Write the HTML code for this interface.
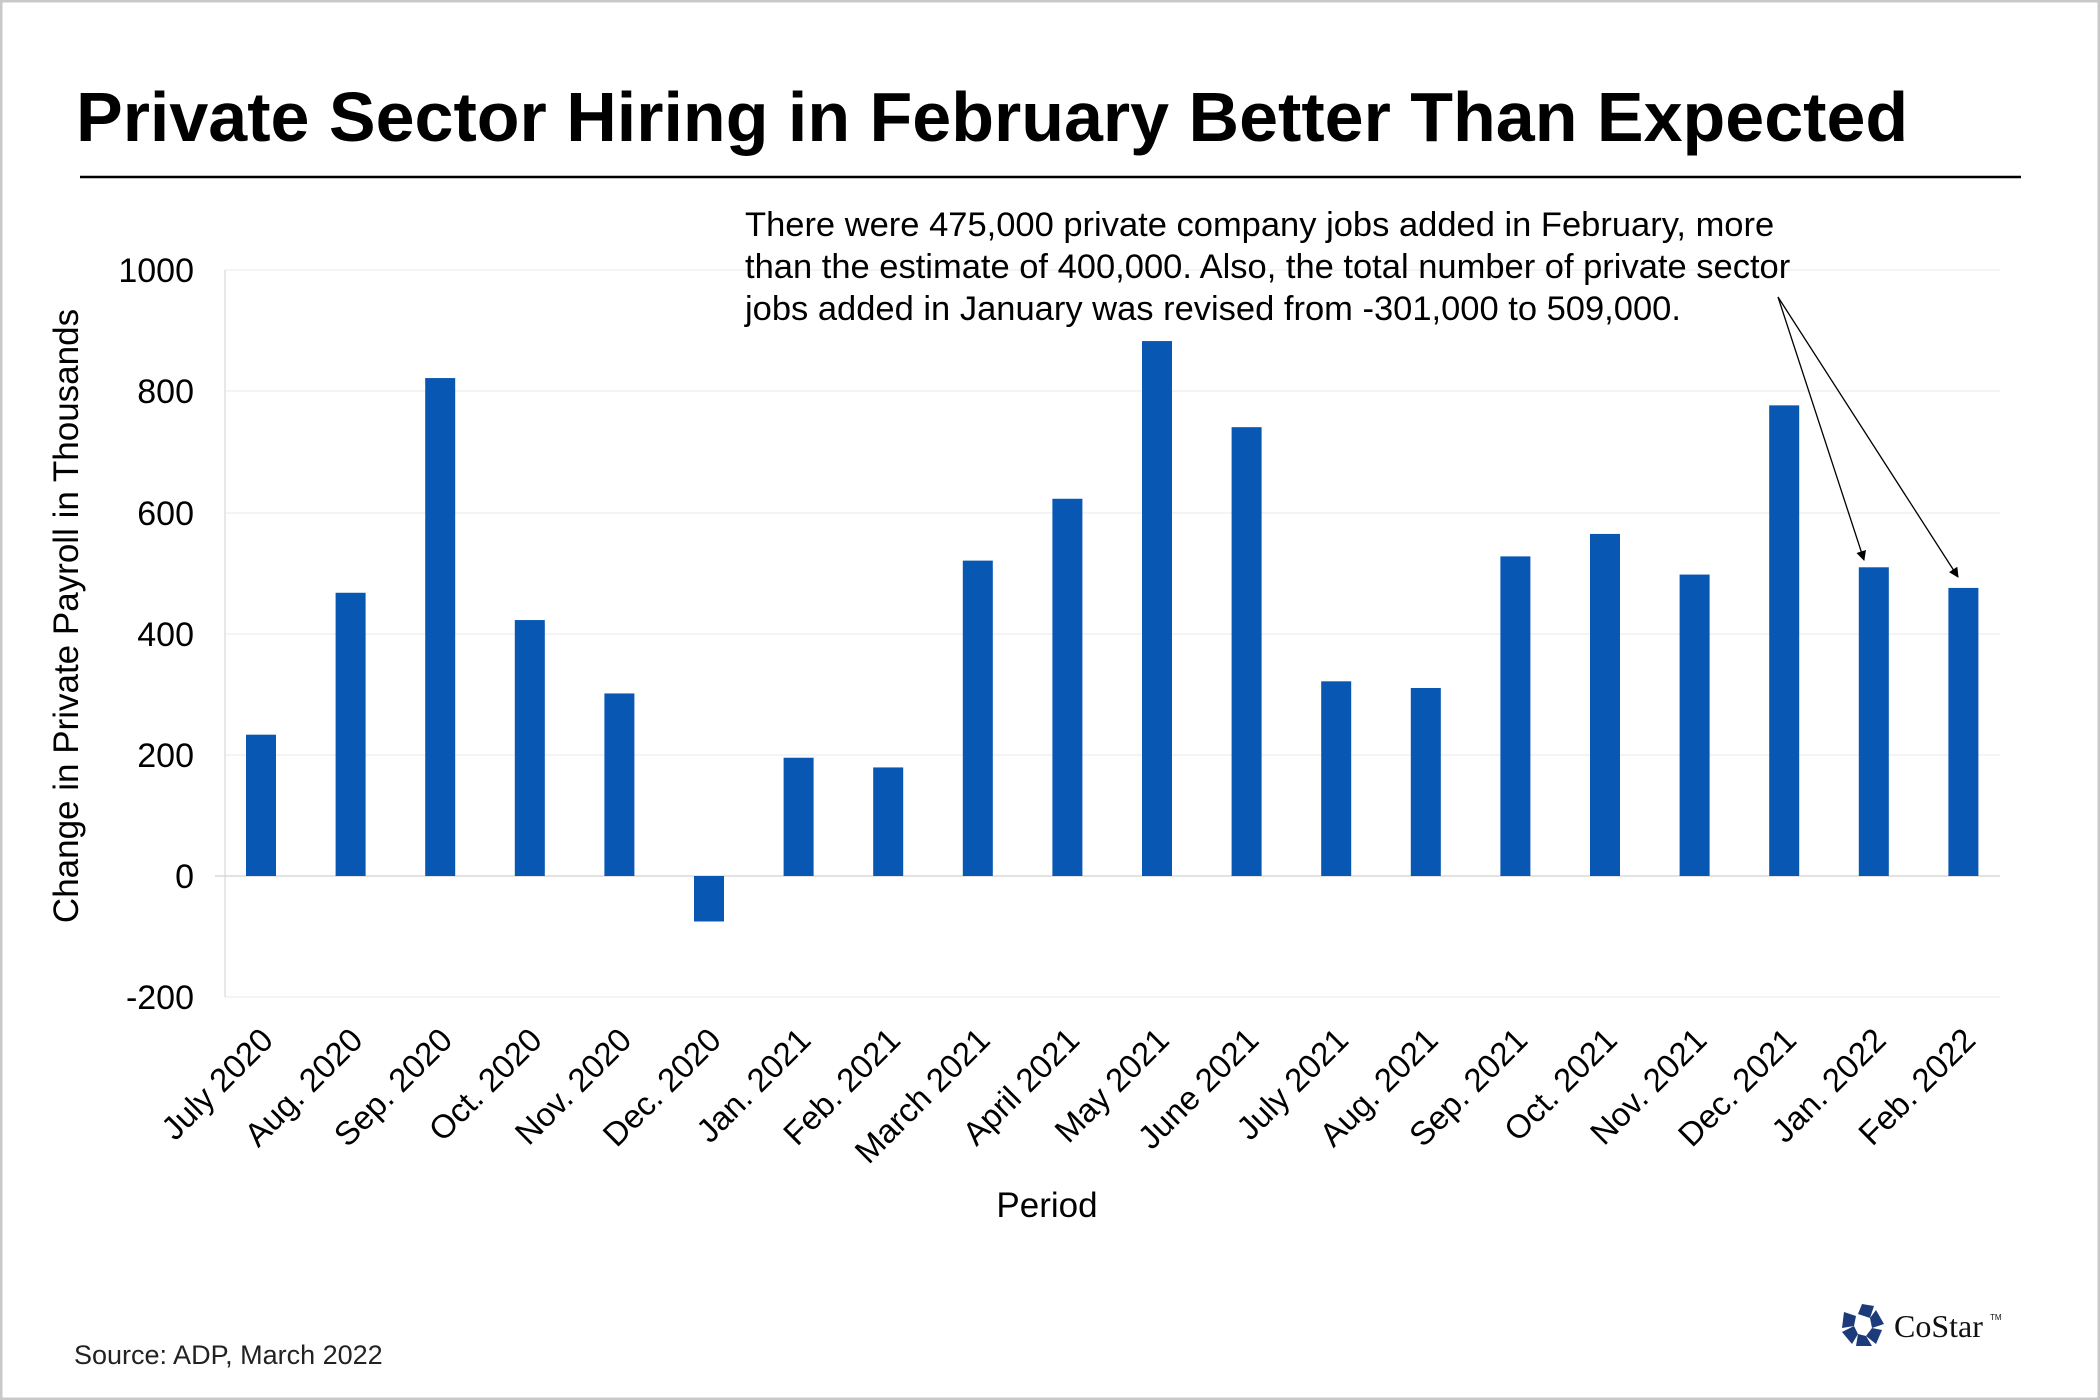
<!DOCTYPE html>
<html><head><style>
body{margin:0;background:#fff;}
svg{display:block;font-family:"Liberation Sans",Arial,sans-serif;}
</style></head><body>
<svg width="2100" height="1400" viewBox="0 0 2100 1400" xmlns="http://www.w3.org/2000/svg">
<rect x="1" y="1" width="2098" height="1398" fill="#fff" stroke="#c8c8c8" stroke-width="3"/>
<text x="76" y="141" font-size="70" font-weight="bold" fill="#000">Private Sector Hiring in February Better Than Expected</text>
<line x1="80" y1="177" x2="2021" y2="177" stroke="#000" stroke-width="2.5"/>
<g stroke="#f0f0f0" stroke-width="1.5">
<line x1="225" y1="270" x2="2000" y2="270"/>
<line x1="225" y1="391" x2="2000" y2="391"/>
<line x1="225" y1="513" x2="2000" y2="513"/>
<line x1="225" y1="634" x2="2000" y2="634"/>
<line x1="225" y1="755" x2="2000" y2="755"/>
<line x1="225" y1="997" x2="2000" y2="997"/>
</g>
<line x1="225" y1="270" x2="225" y2="997" stroke="#e0e0e0" stroke-width="1.5"/>
<line x1="215" y1="876" x2="2000" y2="876" stroke="#d8d8d8" stroke-width="1.5"/>
<g font-size="34" text-anchor="end" fill="#000">
<text x="194" y="282">1000</text><text x="194" y="403">800</text><text x="194" y="525">600</text>
<text x="194" y="646">400</text><text x="194" y="767">200</text><text x="194" y="888">0</text><text x="194" y="1009">-200</text>
</g>
<text transform="translate(78,616) rotate(-90)" font-size="35" text-anchor="middle">Change in Private Payroll in Thousands</text>
<g fill="#0757b3" id="bars"></g>
<g id="xl" font-size="33" text-anchor="end"></g>
<text x="1047" y="1217" font-size="35" text-anchor="middle">Period</text>
<g font-size="34.5">
<text x="745" y="236">There were 475,000 private company jobs added in February, more</text>
<text x="745" y="278">than the estimate of 400,000. Also, the total number of private sector</text>
<text x="745" y="320">jobs added in January was revised from -301,000 to 509,000.</text>
</g>
<defs><marker id="ah" markerWidth="10" markerHeight="10" refX="9" refY="5" orient="auto" markerUnits="userSpaceOnUse"><path d="M0,0 L10,5 L0,10 z" fill="#000"/></marker></defs>
<line x1="1778" y1="297" x2="1864" y2="560" stroke="#000" stroke-width="1.3" marker-end="url(#ah)"/>
<line x1="1778" y1="297" x2="1958" y2="577" stroke="#000" stroke-width="1.3" marker-end="url(#ah)"/>
<text x="74" y="1364" font-size="27" fill="#222">Source: ADP, March 2022</text>
<g fill="#1d3a7a" transform="translate(1862,1326)">
<polygon points="0,-22 12,-20 8,-8 -4,-12"/>
<polygon points="14,-16 22,-2 10,2 8,-8"/>
<polygon points="20,4 14,18 4,10 10,2"/>
<polygon points="10,20 -6,20 -4,8 4,10"/>
<polygon points="-10,18 -20,6 -8,0 -4,8"/>
<polygon points="-20,2 -18,-14 -6,-10 -8,0"/>
</g>
<text x="1894" y="1337" font-family="Liberation Serif,serif" font-size="32" fill="#111">CoStar</text>
<text x="1990" y="1320" font-size="8" fill="#111">TM</text>
<script>
var v=[233,467,821,422,301,-75,195,179,520,622,882,740,321,310,527,564,497,776,509,475];
var l=["July 2020","Aug. 2020","Sep. 2020","Oct. 2020","Nov. 2020","Dec. 2020","Jan. 2021","Feb. 2021","March 2021","April 2021","May 2021","June 2021","July 2021","Aug. 2021","Sep. 2021","Oct. 2021","Nov. 2021","Dec. 2021","Jan. 2022","Feb. 2022"];
var b=document.getElementById('bars'),x=document.getElementById('xl'),ns="http://www.w3.org/2000/svg";
for(var i=0;i<20;i++){var c=261+i*89.6,h=v[i]*0.6065;
var r=document.createElementNS(ns,'rect');r.setAttribute('x',c-15);r.setAttribute('width',30);
r.setAttribute('y',h>=0?876-h:876);r.setAttribute('height',Math.abs(h));b.appendChild(r);
var t=document.createElementNS(ns,'text');t.setAttribute('transform','translate('+(c+14)+',1042) rotate(-45)');t.textContent=l[i];x.appendChild(t);}
</script>
</svg>
</body></html>
